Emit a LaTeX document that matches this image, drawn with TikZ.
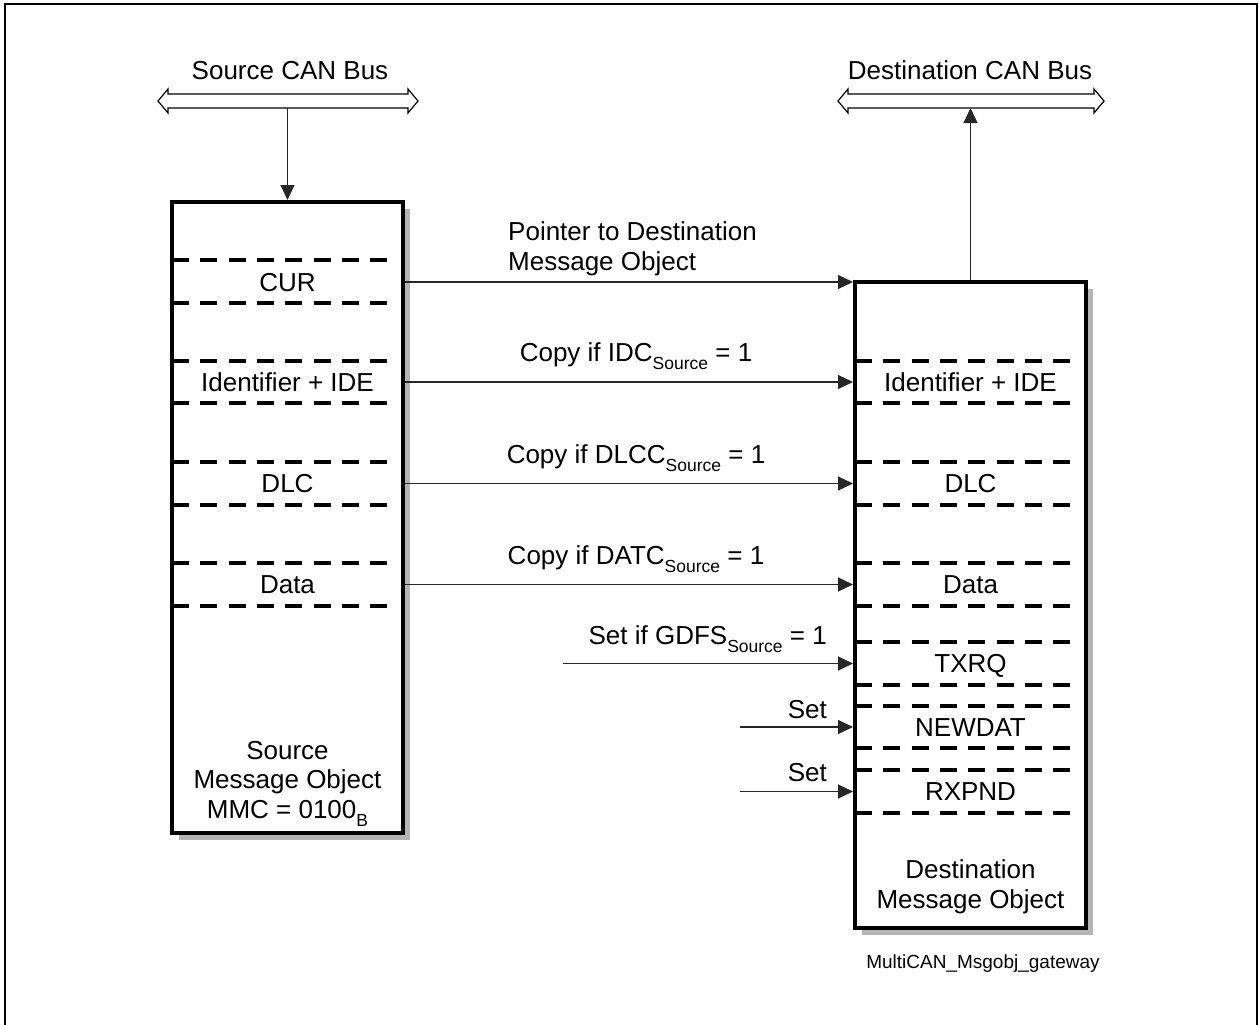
\documentclass[tikz,border=0pt]{standalone}
\usepackage{fontspec}
\setmainfont{Liberation Sans}
\usetikzlibrary{arrows.meta,shadows,calc}
\definecolor{shadowgray}{RGB}{180,180,180}
\newcommand\subtxt[1]{\raisebox{-8pt}{\fontsize{17.5}{17.5}\selectfont #1}}
\begin{document}
\begin{tikzpicture}[x=1pt,y=-1pt,
  box/.style={draw, line width=4pt, fill=white, minimum width=231pt, inner sep=0pt,
    drop shadow={shadow xshift=7pt, shadow yshift=-7pt, fill=shadowgray, opacity=1}},
  dline/.style={line width=3.6pt, dash pattern=on 17pt off 11.3pt},
  conn/.style={line width=1.2pt, draw=black!85, -{Triangle[length=15pt,width=14pt]}},
  bus/.style={line width=1.2pt, draw=black, fill=white},
  lbl/.style={font=\fontsize{26}{29.5}\selectfont, inner sep=0pt, anchor=base},
  small/.style={font=\fontsize{19}{21}\selectfont, inner sep=0pt, anchor=base}]
\useasboundingbox (0,0) rectangle (1259,1025);
% frame
\draw[line width=2.5pt] (5,1025) -- (5,4) -- (1257,4) -- (1257,1025);

% buses
\draw[bus] (158,101) -- (168,89) -- (168,94) -- (408,94) -- (408,89) -- (418,101)
  -- (408,113) -- (408,108) -- (168,108) -- (168,113) -- cycle;
\draw[bus] (838,101) -- (848,89) -- (848,94) -- (1094,94) -- (1094,89) -- (1104,101)
  -- (1094,113) -- (1094,108) -- (848,108) -- (848,113) -- cycle;
\coordinate (srcbus) at (287.5,108);
\coordinate (dstbus) at (970.5,108);
\node[lbl] (srcbuslbl) at (290,80) {Source CAN Bus};
\node[lbl] (dstbuslbl) at (970,80) {Destination CAN Bus};

% boxes
\node[box, minimum height=631pt] (src) at (287.5,517.5) {};
\node[box, minimum height=646pt] (dst) at (970.5,605) {};

% source fields
\foreach \y in {260,303,361,403,462,505,563,606}
  \draw[dline] (172,\y) -- ++(219,0);
\node[lbl] (curS) at (287.5,291) {CUR};
\node[lbl] (idS) at (287.5,391) {Identifier + IDE};
\node[lbl] (dlcS) at (287.5,492.5) {DLC};
\node[lbl] (dataS) at (287.5,593.5) {Data};
\node[lbl, align=center] (srcname) at (287.5,818) {Source\\Message Object\\MMC = 0100\subtxt{B}};

% destination fields
\foreach \y in {361,403,462,505,563,606,642,685,706,748,770,813}
  \draw[dline] (855,\y) -- ++(219,0);
\node[lbl] (idD) at (970.5,391) {Identifier + IDE};
\node[lbl] (dlcD) at (970.5,492.5) {DLC};
\node[lbl] (dataD) at (970.5,593.5) {Data};
\node[lbl] (txrqD) at (970.5,672.5) {TXRQ};
\node[lbl] (newdatD) at (970.5,736) {NEWDAT};
\node[lbl] (rxpndD) at (970.5,800.5) {RXPND};
\node[lbl, align=center] (dstname) at (970.5,908) {Destination\\Message Object};
\node[small] (fig) at (983,968) {MultiCAN\_Msgobj\_gateway};

% row coordinates
\coordinate (rcur) at (0,282);
\coordinate (rid) at (0,382);
\coordinate (rdlc) at (0,483.5);
\coordinate (rdata) at (0,584.5);
\coordinate (rtxrq) at (0,663.5);
\coordinate (rnew) at (0,727);
\coordinate (rrx) at (0,791.5);
\coordinate (gdfsstart) at (563,663.5);
\coordinate (set1start) at (740,727);
\coordinate (set2start) at (740,791.5);

% connectors
\draw[conn] (srcbus) -- (src.north);
\draw[conn] (dst.north) -- (dstbus);
\draw[conn] (src.east |- rcur) -- (dst.west |- rcur);
\draw[conn] (src.east |- rid) -- (dst.west |- rid);
\draw[conn] (src.east |- rdlc) -- (dst.west |- rdlc);
\draw[conn] (src.east |- rdata) -- (dst.west |- rdata);
\draw[conn] (gdfsstart) -- (dst.west |- rtxrq);
\draw[conn] (set1start) -- (dst.west |- rnew);
\draw[conn] (set2start) -- (dst.west |- rrx);

% connector labels
\node[lbl, anchor=base west, align=left] (ptr) at (508,270) {Pointer to Destination\\Message Object};
\node[lbl] (cid) at (636,361) {Copy if IDC\subtxt{Source} = 1};
\node[lbl] (cdlc) at (636,463) {Copy if DLCC\subtxt{Source} = 1};
\node[lbl] (cdata) at (636,564) {Copy if DATC\subtxt{Source} = 1};
\node[lbl, anchor=base east] (gdfs) at (827,644) {Set if GDFS\subtxt{Source} = 1};
\node[lbl, anchor=base east] (set1) at (827,718) {Set};
\node[lbl, anchor=base east] (set2) at (827,781) {Set};
\end{tikzpicture}
\end{document}
